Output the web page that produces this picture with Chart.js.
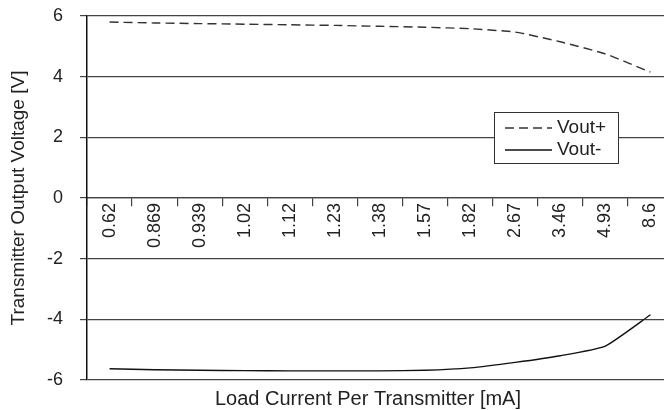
<!DOCTYPE html>
<html>
<head>
<meta charset="utf-8">
<script src="https://cdn.jsdelivr.net/npm/chart.js@4.4.0/dist/chart.umd.min.js"></script>
<style>
    html, body { margin: 0; padding: 0; background: #fff; overflow: hidden; }
    #wrap { width: 680px; height: 410px; }
</style>
</head>
<body>
<div id="wrap"><canvas id="lineChart" width="680" height="410"></canvas></div>
<script>

    // load current per transmitter [mA]
    var categories = ['0.62', '0.869', '0.939', '1.02', '1.12', '1.23', '1.38', '1.57', '1.82', '2.67', '3.46', '4.93', '8.6'];

    var voutPlus = [5.80, 5.77, 5.75, 5.73, 5.71, 5.69, 5.66, 5.63, 5.58, 5.47, 5.15, 4.75, 4.15];
    var voutMinus = [-5.63, -5.66, -5.68, -5.69, -5.70, -5.70, -5.70, -5.68, -5.60, -5.42, -5.20, -4.88, -3.85];

    var yTicks = [-6, -4, -2, 0, 2, 4, 6];

    var xTitle = 'Load Current Per Transmitter [mA]';
    var yTitle = 'Transmitter Output Voltage [V]';

    var fontFamily = "'Liberation Sans', Arial, sans-serif";

    // legend box inside the plot + x title under it, like the original
    var boxLegend = {
        id: 'boxLegend',
        afterDatasetsDraw: function (chart) {
            var ctx = chart.ctx;
            var area = chart.chartArea;
            var x = area.left + 407;
            var y = area.top + 96;
            var w = 124;
            var h = 51;

            ctx.save();
            ctx.fillStyle = '#fff';
            ctx.fillRect(x, y, w, h);
            ctx.strokeStyle = '#333';
            ctx.lineWidth = 1;
            ctx.strokeRect(x + 0.5, y + 0.5, w, h);

            var items = chart.data.datasets;
            ctx.font = '19px ' + fontFamily;
            ctx.textBaseline = 'middle';
            ctx.textAlign = 'left';
            for (var i = 0; i < items.length; i++) {
                var ly = y + 16 + i * 22;
                ctx.beginPath();
                ctx.setLineDash(items[i].borderDash || []);
                ctx.strokeStyle = items[i].borderColor;
                ctx.lineWidth = items[i].borderWidth;
                ctx.moveTo(x + 11, ly);
                ctx.lineTo(x + 58, ly);
                ctx.stroke();
                ctx.setLineDash([]);
                ctx.fillStyle = '#222';
                ctx.fillText(items[i].label, x + 63, ly);
            }

            ctx.font = '20px ' + fontFamily;
            ctx.textAlign = 'center';
            ctx.fillText(xTitle, area.left + 281, area.bottom + 19);
            ctx.restore();
        }
    };

    var lineData = {
        labels: categories,
        datasets: [
            {
                label: 'Vout+',
                data: voutPlus,
                borderColor: '#333',
                borderWidth: 1.4,
                borderDash: [9, 5],
                pointRadius: 0,
                tension: 0.15,
                fill: false
            }, {
                label: 'Vout-',
                data: voutMinus,
                borderColor: '#111',
                borderWidth: 1.4,
                pointRadius: 0,
                tension: 0.15,
                fill: false
            }
        ]
    };

    var lineOptions = {
        responsive: false,
        animation: false,
        layout: {
            padding: {left: 0, right: 7, top: 16, bottom: 30}
        },
        plugins: {
            legend: {display: false},
            tooltip: {enabled: false}
        },
        scales: {
            x: {
                type: 'category',
                position: {y: 0},
                offset: true,
                grid: {
                    offset: true,
                    drawOnChartArea: false,
                    drawTicks: true,
                    tickLength: 8,
                    color: '#444',
                    lineWidth: 1.2
                },
                border: {display: true, color: '#444', width: 1.2},
                ticks: {
                    autoSkip: false,
                    minRotation: 90,
                    maxRotation: 90,
                    padding: -3,
                    color: '#222',
                    font: {family: fontFamily, size: 18}
                }
            },
            y: {
                min: -6,
                max: 6,
                afterBuildTicks: function (scale) {
                    scale.ticks = yTicks.map(function (v) { return {value: v}; });
                },
                afterFit: function (scale) {
                    scale.width = 87;
                    scale.paddingTop = 10;
                    scale.paddingBottom = 10;
                },
                grid: {
                    color: '#444',
                    lineWidth: 1.2,
                    drawTicks: true,
                    tickLength: 7
                },
                border: {display: true, color: '#111', width: 1.5},
                ticks: {
                    padding: 17,
                    color: '#222',
                    font: {family: fontFamily, size: 18}
                },
                title: {
                    display: true,
                    text: yTitle,
                    color: '#222',
                    font: {family: fontFamily, size: 19},
                    padding: {top: 7, bottom: 0}
                }
            }
        }
    };

    var ctx = document.getElementById('lineChart').getContext('2d');
    new Chart(ctx, {type: 'line', data: lineData, options: lineOptions, plugins: [boxLegend]});

</script>
</body>
</html>
